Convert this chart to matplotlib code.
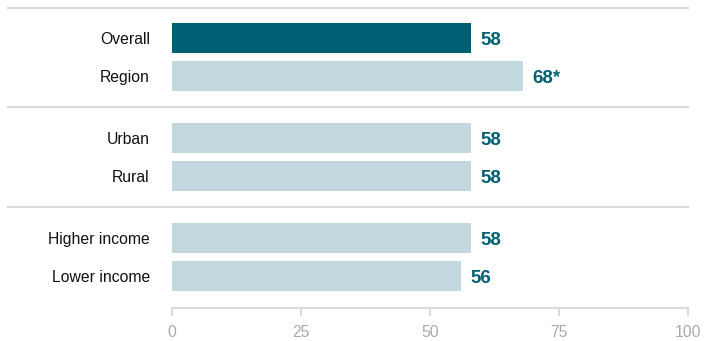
import matplotlib.pyplot as plt

categories = ['Overall', 'Region', 'Urban', 'Rural', 'Higher income', 'Lower income']
groups = [0, 0, 1, 1, 2, 2]
values = [58, 68, 58, 58, 58, 56]
value_labels = ['58', '68*', '58', '58', '58', '56']
ticks = [0, 25, 50, 75, 100]

DARK = '#005F73'
LIGHT = '#C2D7DE'
RULE = '#DADADA'

plt.rcParams['font.family'] = ['Liberation Sans', 'DejaVu Sans']

fig = plt.figure(figsize=(7.17, 3.41), dpi=100)
ax = fig.add_axes([172 / 717, 33 / 341, 516 / 717, 308 / 341])

gap = 24 / 38
pos = [i + g * gap for i, g in enumerate(groups)]
colors = [DARK] + [LIGHT] * (len(values) - 1)

ax.barh(pos, values, height=30 / 38, color=colors)

# value labels, digits centred on the bar
vsize = 13.5
for y, v, lab in zip(pos, values, value_labels):
    ax.annotate(lab, (v, y), xytext=(6.5, -0.36 * vsize), textcoords='offset points',
                va='baseline', ha='left', fontsize=vsize, fontweight='bold', color=DARK)

ax.set_yticks(pos)
ax.set_yticklabels(categories, fontsize=11.3, color='#111111')
ax.tick_params(axis='y', length=0, pad=16)

# separators between groups, stretching under the labels
left = -164 / 516
for y in [-30 / 38, 1 + 31 / 38, 3 + gap + 31 / 38]:
    ax.axhline(y, xmin=left, xmax=1, color=RULE, lw=1.5, clip_on=False)

ax.set_xlim(0, 100)
ax.set_ylim(pos[-1] + 32 / 38, -1.0)
ax.set_xticks(ticks)
ax.set_xticklabels([str(t) for t in ticks], fontsize=11.3, color='#AAAAAA')
ax.tick_params(axis='x', length=6, width=1.5, color=RULE, direction='out', pad=6)

for s in ['top', 'right', 'left']:
    ax.spines[s].set_visible(False)
ax.spines['bottom'].set_color(RULE)
ax.spines['bottom'].set_linewidth(1.5)

fig.savefig('out.png', dpi=100)
